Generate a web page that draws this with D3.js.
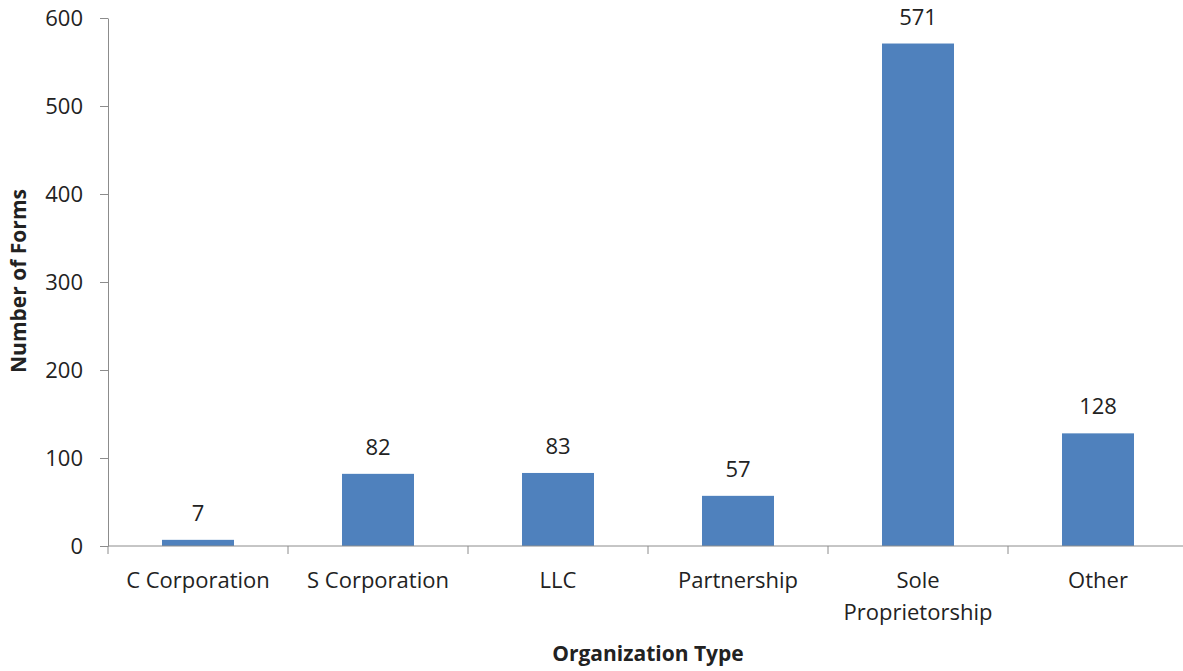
<!DOCTYPE html>
<html>
<head>
<meta charset="utf-8">
<script src="https://cdn.jsdelivr.net/npm/d3@7"></script>
<style>
  body { margin: 0; background: #fff; }
  text { font-family: "Open Sans", "Noto Sans", sans-serif; fill: #222; }
</style>
</head>
<body>
<script>
const categories = ["C Corporation", "S Corporation", "LLC", "Partnership", "Sole Proprietorship", "Other"];
const values = [7, 82, 83, 57, 571, 128];
const yTicks = [0, 100, 200, 300, 400, 500, 600];

const width = 1183, height = 671;
const margin = {top: 18, right: -5, bottom: 125, left: 108};

const svg = d3.select("body").append("svg")
    .attr("width", width)
    .attr("height", height);

const x = d3.scaleBand()
    .domain(categories)
    .range([margin.left, width - margin.right])
    .paddingInner(0.6)
    .paddingOuter(0.3);

// bands are 180px wide, bars ~71px
const y = d3.scaleLinear()
    .domain([0, 600])
    .range([height - margin.bottom, margin.top]);

// bars
svg.append("g")
    .selectAll("rect")
    .data(values)
    .enter()
    .append("rect")
    .attr("x", (d, i) => x(categories[i]))
    .attr("y", d => y(d))
    .attr("width", x.bandwidth())
    .attr("height", d => y(0) - y(d))
    .attr("fill", "#4f81bd");

// value labels
svg.append("g")
    .selectAll("text")
    .data(values)
    .enter()
    .append("text")
    .attr("x", (d, i) => x(categories[i]) + x.bandwidth() / 2)
    .attr("y", d => y(d) - 19)
    .attr("text-anchor", "middle")
    .attr("font-size", "22px")
    .text(d => d);

// y axis
const yAxis = svg.append("g")
    .attr("transform", "translate(" + margin.left + ",0)")
    .call(d3.axisLeft(y).tickValues(yTicks).tickSize(8).tickSizeOuter(0).tickPadding(17));
yAxis.selectAll("text").attr("font-size", "22px").style("font-family", null);
yAxis.selectAll("line, path").attr("stroke", "#8c8c8c");

// x axis, ticks at band boundaries
const step = x.step();
const bounds = d3.range(categories.length + 1).map(i => margin.left + i * step);
const xg = svg.append("g");
xg.append("line")
    .attr("x1", margin.left).attr("x2", width)
    .attr("y1", y(0)).attr("y2", y(0))
    .attr("stroke", "#8c8c8c");
xg.selectAll(".tk")
    .data(bounds)
    .enter()
    .append("line")
    .attr("x1", d => d).attr("x2", d => d)
    .attr("y1", y(0)).attr("y2", y(0) + 8)
    .attr("stroke", "#8c8c8c");

const xlab = xg.selectAll(".lab")
    .data(categories)
    .enter()
    .append("text")
    .attr("x", d => x(d) + x.bandwidth() / 2)
    .attr("y", y(0) + 42)
    .attr("text-anchor", "middle")
    .attr("font-size", "22px");
xlab.each(function (d) {
    const t = d3.select(this);
    const words = d === "Sole Proprietorship" ? ["Sole", "Proprietorship"] : [d];
    words.forEach((w, k) => {
        t.append("tspan")
            .attr("x", t.attr("x"))
            .attr("dy", k === 0 ? 0 : 32)
            .text(w);
    });
});

// axis titles
svg.append("text")
    .attr("x", margin.left + 3 * step)
    .attr("y", 661)
    .attr("text-anchor", "middle")
    .attr("font-size", "21px")
    .attr("font-weight", "bold")
    .text("Organization Type");

svg.append("text")
    .attr("transform", "translate(26," + 281 + ") rotate(-90)")
    .attr("text-anchor", "middle")
    .attr("font-size", "21px")
    .attr("font-weight", "bold")
    .text("Number of Forms");
</script>
</body>
</html>
